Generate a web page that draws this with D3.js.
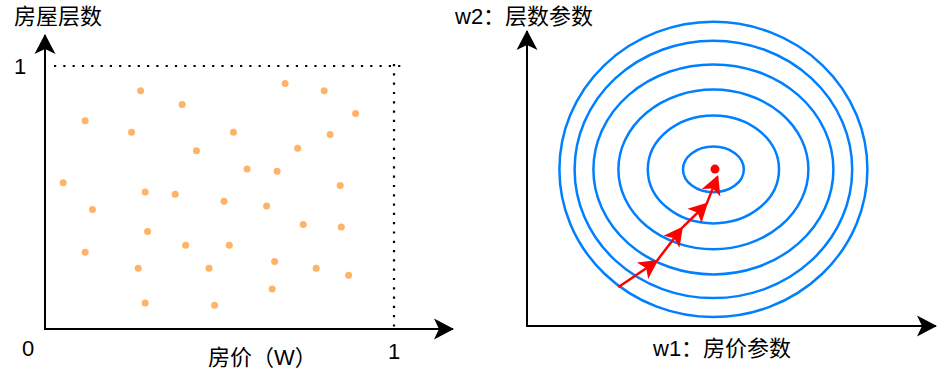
<!DOCTYPE html>
<html>
<head>
<meta charset="utf-8">
<script src="https://cdn.jsdelivr.net/npm/d3@7"></script>
<style>
  body { margin: 0; background: #fff; }
  text { font-family: "Liberation Sans", "Noto Sans CJK SC", sans-serif; font-size: 22px; fill: #000; }
</style>
</head>
<body>
<script>
// left chart: samples, price (x) vs floors (y), both scaled to 0..1
const priceVals = [0.274, 0.688, 0.800, 0.393, 0.890, 0.115, 0.248, 0.540, 0.817, 0.434, 0.724, 0.579,
  0.665, 0.052, 0.287, 0.373, 0.846, 0.513, 0.136, 0.635, 0.740, 0.849, 0.294, 0.403, 0.528, 0.115,
  0.267, 0.470, 0.658, 0.777, 0.870, 0.651, 0.287, 0.486]
const floorVals = [0.906, 0.933, 0.906, 0.854, 0.819, 0.792, 0.748, 0.748, 0.740, 0.678, 0.687, 0.608,
  0.600, 0.556, 0.521, 0.512, 0.546, 0.486, 0.454, 0.468, 0.397, 0.388, 0.371, 0.318, 0.318, 0.292,
  0.231, 0.231, 0.257, 0.231, 0.204, 0.152, 0.099, 0.090]
const leftTicks = ["0", "1"]

// right chart: contour ellipses of the loss around the minimum
const lossCenter = [0.466, 0.522]
const contourRx = [0.385, 0.347, 0.300, 0.2375, 0.164, 0.076]
const contourRy = [0.492, 0.429, 0.350, 0.266, 0.180, 0.076]
// gradient descent steps (w1, w2)
const stepW1 = [0.228, 0.324, 0.387, 0.449, 0.476]
const stepW2 = [0.129, 0.216, 0.326, 0.407, 0.497]

const svg = d3.select("body").append("svg")
  .attr("width", 942)
  .attr("height", 373)

const defs = svg.append("defs")
function arrowMarker(id, len, half, notch, color, back) {
  defs.append("marker")
    .attr("id", id)
    .attr("markerUnits", "userSpaceOnUse")
    .attr("viewBox", `${-len - 2} ${-half - 2} ${len + 6} ${half * 2 + 4}`)
    .attr("markerWidth", len + 6)
    .attr("markerHeight", half * 2 + 4)
    .attr("refX", back)
    .attr("refY", 0)
    .attr("orient", "auto")
    .append("path")
    .attr("d", `M0,0 L${-len},${-half} L${-len + notch},0 L${-len},${half} Z`)
    .attr("fill", color)
}
arrowMarker("axisHead", 20, 10.5, 5, "#000", -1)
arrowMarker("redHead", 19, 10, 4.5, "#ff0000", -2)

// ---------- left chart ----------
const x = d3.scaleLinear().domain([0, 1]).range([45, 394])
const y = d3.scaleLinear().domain([0, 1]).range([329, 66])
const left = svg.append("g")

left.append("line")
  .attr("x1", x(0) + 9).attr("y1", y(1))
  .attr("x2", x(1) + 12).attr("y2", y(1))
  .attr("stroke", "#000").attr("stroke-width", 2.2)
  .attr("stroke-dasharray", "2.2,7.1")
left.append("line")
  .attr("x1", x(1)).attr("y1", y(1) - 2)
  .attr("x2", x(1)).attr("y2", y(0) + 4)
  .attr("stroke", "#000").attr("stroke-width", 2.2)
  .attr("stroke-dasharray", "2.2,7.1")

left.append("line")
  .attr("x1", x(0)).attr("y1", y(0) + 1)
  .attr("x2", x(0)).attr("y2", y(1.118))
  .attr("stroke", "#000").attr("stroke-width", 2)
  .attr("marker-end", "url(#axisHead)")
left.append("line")
  .attr("x1", x(0)).attr("y1", y(0))
  .attr("x2", x(1.169)).attr("y2", y(0))
  .attr("stroke", "#000").attr("stroke-width", 2)
  .attr("marker-end", "url(#axisHead)")

left.selectAll("circle")
  .data(priceVals.map((p, i) => [p, floorVals[i]]))
  .join("circle")
  .attr("cx", d => x(d[0]))
  .attr("cy", d => y(d[1]))
  .attr("r", 3.5)
  .attr("fill", "#ffb366")

left.append("text").attr("x", x(0) - 23).attr("y", y(0) + 27).text(leftTicks[0])
left.append("text").attr("x", x(1)).attr("y", y(0) + 30).attr("text-anchor", "middle").text(leftTicks[1])
left.append("text").attr("x", x(0) - 25).attr("y", y(1) + 8).attr("text-anchor", "middle").text(leftTicks[1])
left.append("text").attr("x", 14).attr("y", 24).text("房屋层数")
left.append("text").attr("x", 208).attr("y", 365).text("房价（W）")

// ---------- right chart ----------
const xr = d3.scaleLinear().domain([0, 1]).range([527, 927])
const yr = d3.scaleLinear().domain([0, 1]).range([326, 26])
const right = svg.append("g")

right.append("line")
  .attr("x1", xr(0)).attr("y1", yr(0) + 1)
  .attr("x2", xr(0)).attr("y2", yr(0.983))
  .attr("stroke", "#000").attr("stroke-width", 2)
  .attr("marker-end", "url(#axisHead)")
right.append("line")
  .attr("x1", xr(0)).attr("y1", yr(0))
  .attr("x2", xr(1.0225)).attr("y2", yr(0))
  .attr("stroke", "#000").attr("stroke-width", 2)
  .attr("marker-end", "url(#axisHead)")

right.selectAll("ellipse")
  .data(contourRx.map((rx, i) => [rx, contourRy[i]]))
  .join("ellipse")
  .attr("cx", xr(lossCenter[0]))
  .attr("cy", yr(lossCenter[1]))
  .attr("rx", d => xr(d[0]) - xr(0))
  .attr("ry", d => yr(0) - yr(d[1]))
  .attr("fill", "none")
  .attr("stroke", "#007fff")
  .attr("stroke-width", 2.5)

const steps = stepW1.map((w, i) => [w, stepW2[i]])
right.selectAll("line.step")
  .data(d3.pairs(steps))
  .join("line")
  .attr("class", "step")
  .attr("x1", d => xr(d[0][0])).attr("y1", d => yr(d[0][1]))
  .attr("x2", d => xr(d[1][0])).attr("y2", d => yr(d[1][1]))
  .attr("stroke", "#ff0000").attr("stroke-width", 2.5)
  .attr("marker-end", "url(#redHead)")

right.append("circle")
  .attr("cx", xr(0.47)).attr("cy", yr(0.523))
  .attr("r", 4.5)
  .attr("fill", "#ff0000")

right.append("text").attr("x", 455).attr("y", 24).text("w2：层数参数")
right.append("text").attr("x", 653).attr("y", 356).text("w1：房价参数")
</script>
</body>
</html>
